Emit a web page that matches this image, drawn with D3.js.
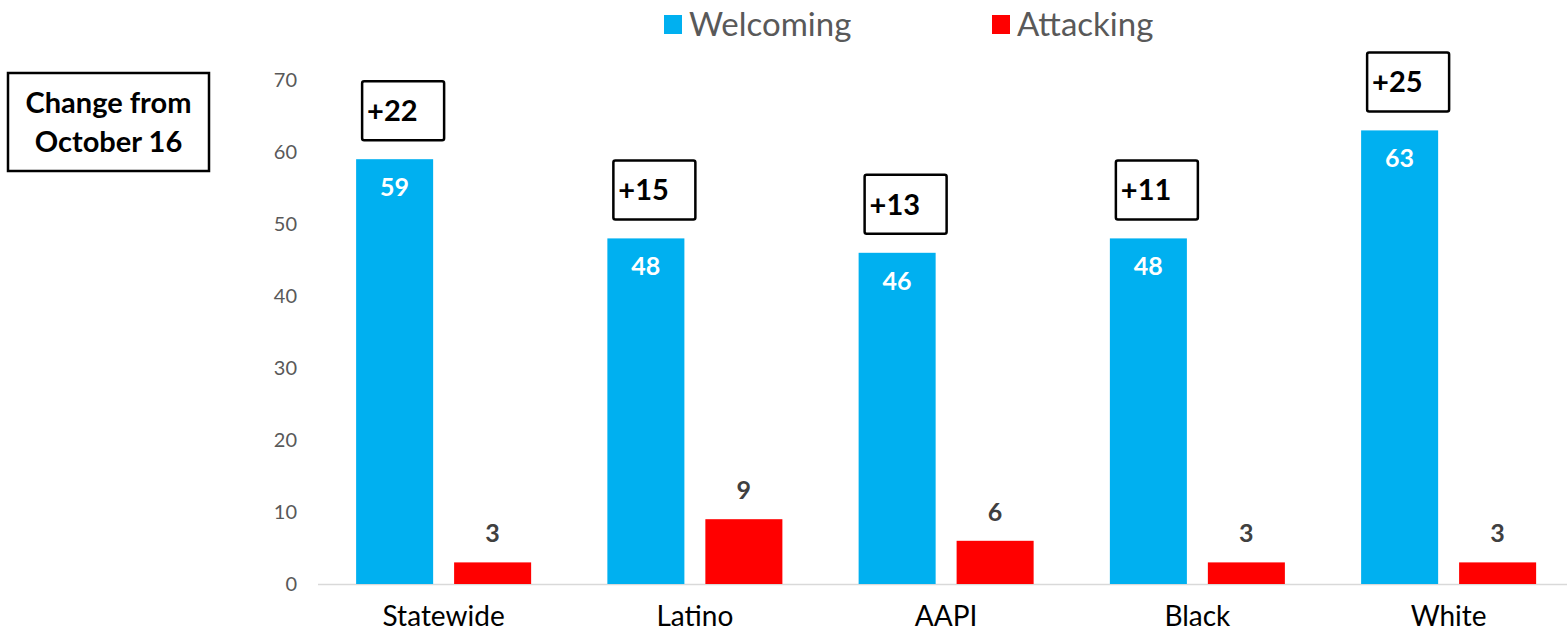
<!DOCTYPE html>
<html>
<head>
<meta charset="utf-8">
<script src="https://cdn.jsdelivr.net/npm/d3@7"></script>
<style>
  body { margin: 0; background: #fff; }
  svg { display: block; font-family: Lato, "Open Sans", sans-serif; }
</style>
</head>
<body>
<div id="chart"></div>
<script>
const categories = ["Statewide", "Latino", "AAPI", "Black", "White"];
const seriesNames = ["Welcoming", "Attacking"];
const welcoming = [59, 48, 46, 48, 63];
const attacking = [3, 9, 6, 3, 3];
const changes = ["+22", "+15", "+13", "+11", "+25"];
const yTicks = [0, 10, 20, 30, 40, 50, 60, 70];
const colors = { Welcoming: "#00B0F0", Attacking: "#FF0000" };

const width = 1567;
const height = 633;
const margin = { top: 80, right: 0, bottom: 49, left: 318 };

const svg = d3.select("#chart")
  .append("svg")
  .attr("width", width)
  .attr("height", height);

const x = d3.scaleBand()
  .domain(categories)
  .range([margin.left, margin.left + 5 * 251.25]);

const xInner = d3.scaleBand()
  .domain(seriesNames)
  .range([0, x.bandwidth()])
  .paddingInner(0.214)
  .paddingOuter(0.389);

const y = d3.scaleLinear()
  .domain([0, 70])
  .range([height - margin.bottom, margin.top]);

// y axis labels
const yAxis = svg.append("g")
  .attr("transform", `translate(297,0)`)
  .call(d3.axisLeft(y).tickValues(yTicks).tickSize(0).tickPadding(0));
yAxis.select(".domain").remove();
yAxis.selectAll("text")
  .attr("font-size", 20)
  .attr("font-family", "Lato, sans-serif")
  .attr("fill", "#595959");

// baseline
svg.append("line")
  .attr("x1", margin.left)
  .attr("x2", width)
  .attr("y1", y(0) + 0.5)
  .attr("y2", y(0) + 0.5)
  .attr("stroke", "#D9D9D9")
  .attr("stroke-width", 1.5);

const rows = categories.map((c, i) => ({
  category: c,
  values: [
    { key: "Welcoming", value: welcoming[i] },
    { key: "Attacking", value: attacking[i] }
  ],
  change: changes[i]
}));

const groups = svg.append("g")
  .selectAll("g")
  .data(rows)
  .join("g")
  .attr("transform", (d) => `translate(${x(d.category)},0)`);

groups.selectAll("rect")
  .data((d) => d.values)
  .join("rect")
  .attr("x", (d) => xInner(d.key))
  .attr("y", (d) => y(d.value))
  .attr("width", xInner.bandwidth())
  .attr("height", (d) => y(0) - y(d.value))
  .attr("fill", (d) => colors[d.key]);

// value labels
groups.selectAll("text.val")
  .data((d) => d.values)
  .join("text")
  .attr("class", "val")
  .attr("x", (d) => xInner(d.key) + xInner.bandwidth() / 2)
  .attr("y", (d) => d.key === "Welcoming" ? y(d.value) + 37 : y(d.value) - 20)
  .attr("text-anchor", "middle")
  .attr("font-size", 25)
  .attr("font-weight", "bold")
  .attr("fill", (d) => d.key === "Welcoming" ? "#fff" : "#404040")
  .text((d) => d.value);

// change boxes
const boxes = groups.append("g")
  .attr("transform", (d) => `translate(${xInner("Welcoming") + 6},${y(d.values[0].value) - 78})`);

boxes.append("rect")
  .attr("width", 82)
  .attr("height", 59)
  .attr("rx", 2)
  .attr("fill", "#fff")
  .attr("stroke", "#000")
  .attr("stroke-width", 2.5);

boxes.append("text")
  .attr("x", 5)
  .attr("y", 40)
  .attr("font-size", 29)
  .attr("font-weight", "bold")
  .attr("fill", "#000")
  .text((d) => d.change);

// category labels
svg.append("g")
  .selectAll("text")
  .data(categories)
  .join("text")
  .attr("x", (d) => x(d) + x.bandwidth() / 2)
  .attr("y", 626)
  .attr("text-anchor", "middle")
  .attr("font-size", 28)
  .attr("fill", "#000")
  .text((d) => d);

// legend
const legendX = [664, 992];
const legend = svg.append("g")
  .selectAll("g")
  .data(seriesNames)
  .join("g")
  .attr("transform", (d, i) => `translate(${legendX[i]},15)`);
legend.append("rect")
  .attr("width", 18)
  .attr("height", 19)
  .attr("fill", (d) => colors[d]);
legend.append("text")
  .attr("x", 25)
  .attr("y", 21)
  .attr("font-size", 33)
  .attr("fill", "#595959")
  .text((d) => d);

// side note box
const note = svg.append("g").attr("transform", "translate(8,73)");
note.append("rect")
  .attr("width", 201)
  .attr("height", 98)
  .attr("fill", "#fff")
  .attr("stroke", "#000")
  .attr("stroke-width", 2.5);
note.append("text")
  .attr("x", 100.5)
  .attr("text-anchor", "middle")
  .attr("font-size", 29)
  .attr("font-weight", "bold")
  .attr("fill", "#000")
  .selectAll("tspan")
  .data(["Change from", "October 16"])
  .join("tspan")
  .attr("x", 100.5)
  .attr("y", (d, i) => 40 + i * 39)
  .text((d) => d);
</script>
</body>
</html>
